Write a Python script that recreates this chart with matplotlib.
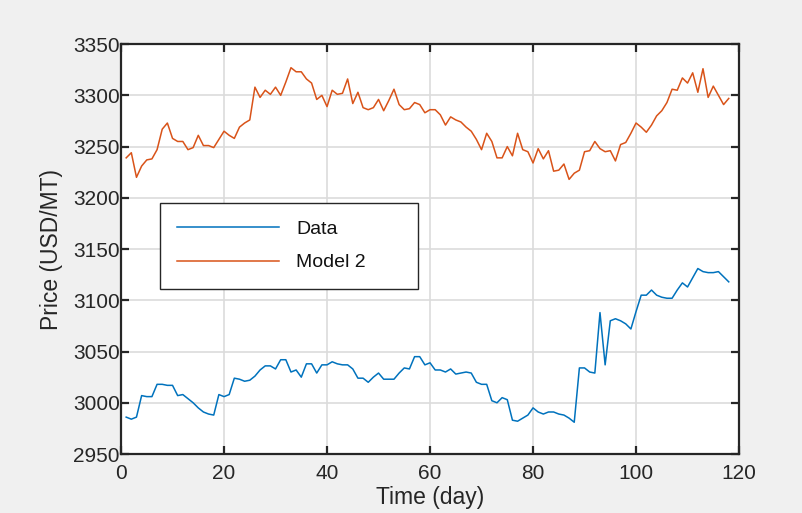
import matplotlib
matplotlib.use('Agg')
from matplotlib import pyplot as plt
import numpy as np

# ------------------ data ------------------ #
days = np.arange(1, 119)

data_price = [
    2986, 2984, 2986, 3007, 3006, 3006, 3018, 3018, 3017, 3017,
    3007, 3008, 3004, 3000, 2995, 2991, 2989, 2988, 3008, 3006,
    3008, 3024, 3023, 3021, 3022, 3026, 3032, 3036, 3036, 3033,
    3042, 3042, 3030, 3032, 3025, 3038, 3038, 3029, 3037, 3037,
    3040, 3038, 3037, 3037, 3033, 3024, 3024, 3020, 3025, 3029,
    3023, 3023, 3023, 3029, 3034, 3033, 3045, 3045, 3037, 3039,
    3032, 3032, 3030, 3033, 3028, 3029, 3030, 3029, 3020, 3018,
    3018, 3002, 3000, 3005, 3003, 2983, 2982, 2985, 2988, 2995,
    2991, 2989, 2991, 2991, 2989, 2988, 2985, 2981, 3034, 3034,
    3030, 3029, 3088, 3037, 3080, 3082, 3080, 3077, 3072, 3089,
    3105, 3105, 3110, 3105, 3103, 3102, 3102, 3110, 3117, 3113,
    3122, 3131, 3128, 3127, 3127, 3128, 3123, 3118,
]

model2_price = [
    3239, 3244, 3220, 3231, 3237, 3238, 3247, 3267, 3273, 3258,
    3255, 3255, 3247, 3249, 3261, 3251, 3251, 3249, 3257, 3265,
    3261, 3258, 3269, 3273, 3276, 3308, 3298, 3305, 3301, 3308,
    3300, 3313, 3327, 3323, 3323, 3316, 3312, 3296, 3300, 3289,
    3305, 3301, 3302, 3316, 3292, 3303, 3288, 3286, 3288, 3296,
    3285, 3295, 3306, 3291, 3286, 3287, 3293, 3291, 3283, 3286,
    3286, 3281, 3271, 3279, 3276, 3274, 3269, 3265, 3257, 3247,
    3263, 3255, 3239, 3239, 3250, 3241, 3263, 3247, 3245, 3234,
    3248, 3238, 3246, 3226, 3227, 3233, 3218, 3224, 3227, 3245,
    3246, 3255, 3248, 3245, 3246, 3236, 3252, 3254, 3263, 3273,
    3269, 3264, 3271, 3280, 3285, 3293, 3306, 3305, 3317, 3312,
    3322, 3303, 3326, 3298, 3309, 3300, 3291, 3297,
]

series_names = ['Data', 'Model 2']
x_ticks = [0, 20, 40, 60, 80, 100, 120]
y_ticks = [2950, 3000, 3050, 3100, 3150, 3200, 3250, 3300, 3350]

# ------------------ figure ------------------ #
plt.rcParams['font.family'] = ['Liberation Sans', 'DejaVu Sans']
text_col = '#262626'

fig = plt.figure(figsize=(8.02, 5.13), dpi=100, facecolor='#f0f0f0')
ax = fig.add_axes([0.1509, 0.115, 0.7706, 0.799])
ax.set_facecolor('white')

ax.plot(days, data_price, color='#0072BD', lw=1.1, label=series_names[0])
ax.plot(days, model2_price, color='#D95319', lw=1.1, label=series_names[1])

ax.set_xlim(0, 120)
ax.set_ylim(2950, 3350)
ax.set_xticks(x_ticks)
ax.set_yticks(y_ticks)

ax.grid(True, color='#dcdcdc', lw=1.2)
ax.set_axisbelow(True)

for s in ax.spines.values():
    s.set_color(text_col)
    s.set_linewidth(1.6)

ax.tick_params(axis='both', direction='in', length=6, width=1.6,
               colors=text_col, labelsize=15, top=True, right=True)
ax.tick_params(axis='y', pad=1)
ax.tick_params(axis='x', pad=7)

ax.set_xlabel('Time (day)', fontsize=16.5, color=text_col, labelpad=2)
ax.set_ylabel('Price (USD/MT)', fontsize=16.5, color=text_col, labelpad=7)

# legend box is wider than its content, as in the reference
leg = ax.legend(loc='upper left', bbox_to_anchor=(0.063, 0.402, 0.4175, 0.21),
                mode='expand', fontsize=14,
                handlelength=5.2, handletextpad=0.9, borderpad=0.9,
                labelspacing=0.8, fancybox=False, framealpha=1,
                edgecolor=text_col, borderaxespad=0)
leg.get_frame().set_linewidth(1.0)
for t in leg.get_texts():
    t.set_color('#111111')

fig.savefig('out.png', dpi=100, facecolor=fig.get_facecolor())
